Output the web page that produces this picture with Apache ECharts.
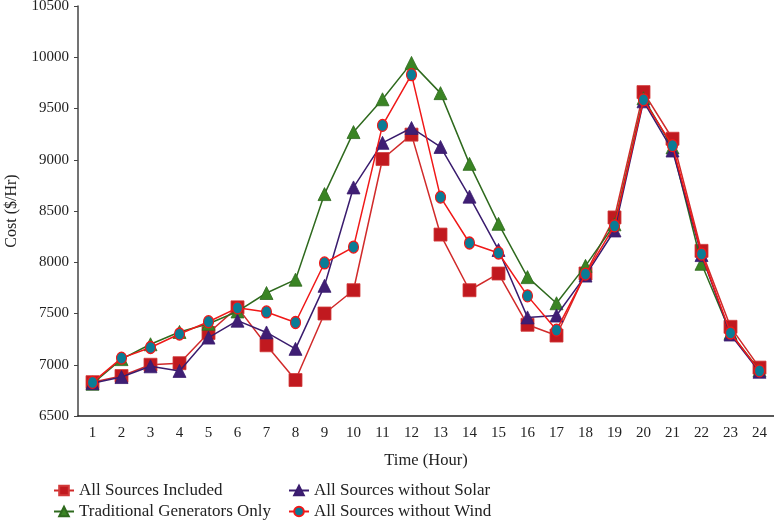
<!DOCTYPE html>
<html><head><meta charset="utf-8">
<script src="https://cdn.jsdelivr.net/npm/echarts@6/dist/echarts.min.js"></script>
<style>html,body{margin:0;padding:0;background:#fff}#c{width:774px;height:521px}</style>
</head><body><div id="c"></div>
<script>
const hours = ['1','2','3','4','5','6','7','8','9','10','11','12','13','14','15','16','17','18','19','20','21','22','23','24'];
const allSources = [6830,6890,7000,7015,7310,7560,7190,6851,7500,7727,9007,9245,8270,7727,7890,7390,7285,7890,8437,9660,9205,8111,7370,6972];
const traditional = [6815,7055,7200,7320,7400,7520,7700,7830,8665,9270,9590,9945,9650,8960,8375,7855,7600,7965,8370,9600,9120,7985,7310,6945];
const noSolar = [6820,6880,6985,6940,7265,7430,7315,7155,7770,8730,9165,9310,9125,8640,8120,7462,7480,7870,8310,9570,9090,8070,7295,6932];
const noWind = [6828,7065,7168,7300,7420,7555,7515,7412,7993,8148,9335,9830,8635,8188,8090,7672,7338,7885,8355,9585,9138,8080,7310,6940];
const yTicks = {min:6500, max:10500, step:500};

const font = '"Liberation Serif", "DejaVu Serif", serif';
const legendText = {fontFamily:font, fontSize:17, color:'#222'};
function leg(name, left, top){
  return {orient:'horizontal', left:left, top:top, itemWidth:20, itemHeight:12, padding:0,
    textStyle:legendText, data:[name]};
}
const chart = echarts.init(document.getElementById('c'));
chart.setOption({
  animation:false,
  backgroundColor:'#fff',
  textStyle:{fontFamily:font},
  grid:{left:78, right:0, top:6, bottom:105, containLabel:false, outerBoundsMode:'none'},
  xAxis:{type:'category', data:hours, boundaryGap:true,
    name:'Time (Hour)', nameLocation:'middle', nameGap:36,
    nameTextStyle:{fontFamily:font, fontSize:16.5, color:'#222'},
    axisLine:{lineStyle:{color:'#222', width:1.5}},
    axisTick:{show:false},
    axisLabel:{fontFamily:font, fontSize:15, color:'#222', margin:10}},
  yAxis:{type:'value', min:yTicks.min, max:yTicks.max, interval:yTicks.step,
    name:'Cost ($/Hr)', nameLocation:'middle', nameGap:58, nameRotate:90,
    nameTextStyle:{fontFamily:font, fontSize:16, color:'#222'},
    axisLine:{show:true, lineStyle:{color:'#444', width:1.5}},
    axisTick:{show:true, length:4, lineStyle:{color:'#444'}},
    splitLine:{show:false},
    axisLabel:{fontFamily:font, fontSize:15, color:'#222', margin:9, formatter:function(v){return String(v);}}},
  legend:[
    leg('All Sources Included', 53, 482),
    leg('Traditional Generators Only', 53, 503),
    leg('All Sources without Solar', 288, 482),
    leg('All Sources without Wind', 288, 503)
  ],
  series:[
    {name:'All Sources Included', type:'line', data:allSources, symbol:'rect', symbolSize:13,
     lineStyle:{color:'#D12A2A', width:1.5}, itemStyle:{color:'#C1191F', borderColor:'#D23A3A', borderWidth:0.8}, z:2},
    {name:'Traditional Generators Only', type:'line', data:traditional, symbol:'triangle', symbolSize:13,
     lineStyle:{color:'#2F6A1E', width:1.5}, itemStyle:{color:'#3A8424', borderColor:'#2F6A1E', borderWidth:0.8}, z:3},
    {name:'All Sources without Solar', type:'line', data:noSolar, symbol:'triangle', symbolSize:13,
     lineStyle:{color:'#3A1C6E', width:1.5}, itemStyle:{color:'#3F1E74', borderColor:'#3A1C6E', borderWidth:0.8}, z:4},
    {name:'All Sources without Wind', type:'line', data:noWind, symbol:'circle', symbolSize:[10,12],
     lineStyle:{color:'#F01818', width:1.5}, itemStyle:{color:'#0A7C96', borderColor:'#F01818', borderWidth:1.2}, z:5}
  ]
});
</script></body></html>
